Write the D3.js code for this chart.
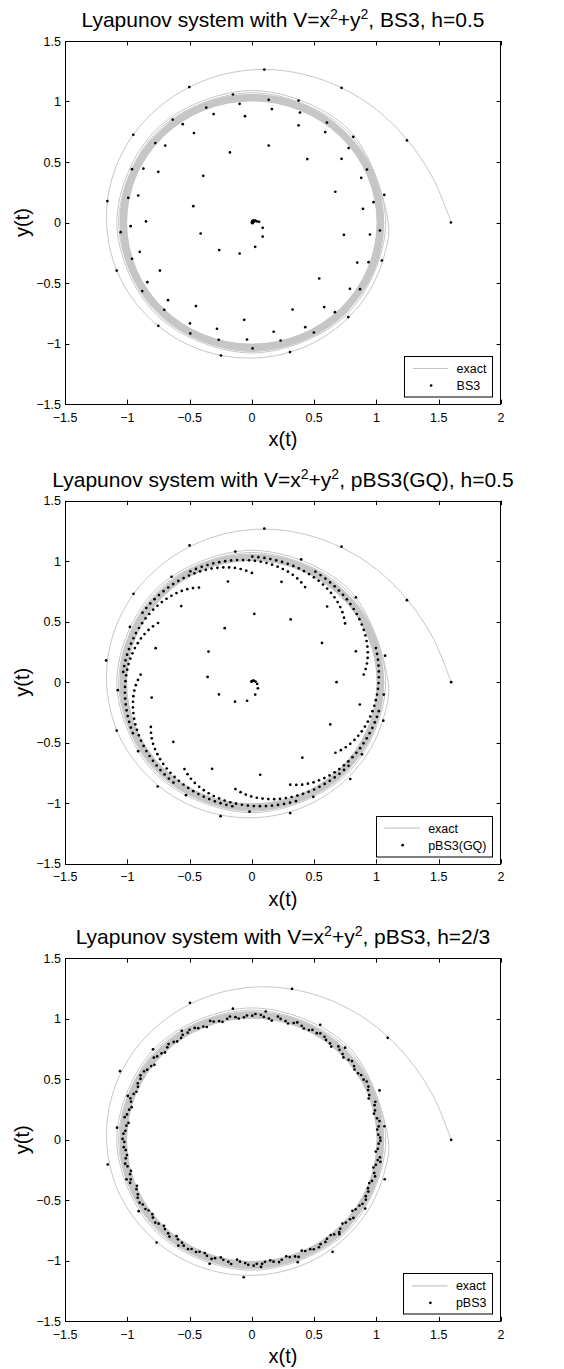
<!DOCTYPE html>
<html><head><meta charset="utf-8">
<script src="https://cdn.jsdelivr.net/npm/d3@7"></script>
<style>
body{margin:0;background:#fff}
svg{display:block}
text{font-family:"Liberation Sans",Arial,Helvetica,sans-serif;fill:#000}
</style>
</head><body>
<svg id="c" width="564" height="1369"></svg>
<script>
// ---------------- data ----------------
const xTicks = [-1.5, -1, -0.5, 0, 0.5, 1, 1.5, 2];
const yTicks = [-1.5, -1, -0.5, 0, 0.5, 1, 1.5];
const methodNames = ["BS3", "pBS3(GQ)", "pBS3"];
const stepLabels = ["h=0.5", "h=0.5", "h=2/3"];
const exactName = "exact";

// exact solution: spiral [angle deg, radius] for the first three turns
const exactSpiral = [
 [0,1.6],[14,1.5],[28.5,1.423],[43,1.368],[57,1.326],[71,1.294],[85.5,1.269],[100,1.246],
 [114,1.226],[128,1.21],[142.7,1.197],[157,1.184],[171,1.173],[185,1.163],[200,1.155],
 [214,1.146],[228.7,1.138],[243,1.132],[257,1.126],[272,1.12],[286,1.114],[300,1.109],
 [315,1.104],[330,1.1],[345,1.097],[360,1.095],[405,1.093],[450,1.09],[495,1.087],
 [540,1.084],[585,1.081],[630,1.078],[675,1.076],[720,1.074],[765,1.073],[810,1.072],
 [855,1.07],[900,1.069],[945,1.067],[990,1.066],[1035,1.064],[1080,1.062]
];
// later turns of the exact solution, packed into the grey band (radius per turn)
const exactBandRadii = [1.058,1.0555,1.053,1.0505,1.048,1.0455,1.043,1.0405,1.038,1.0355,1.033,
 1.0305,1.028,1.0255,1.023,1.0205,1.018,1.0155,1.013,1.0105,1.008,1.0055];

// BS3, h=0.5  (x, y)
const bs3Points = [
 [1.598,0],[1.245,0.678],[0.72,1.113],[0.1,1.264],[-0.502,1.119],[-0.952,0.725],[-1.16,0.177],
 [-1.085,-0.397],[-0.751,-0.854],[-0.248,-1.099],[0.306,-1.071],[0.774,-0.782],[1.044,-0.314],
 [-0.152,1.058],[0.135,1.014],[0.375,1.008],[-0.098,0.981],[0.161,0.937],[-0.366,0.95],
 [0.386,0.909],[-0.307,0.896],[-0.055,0.879],[-0.636,0.851],[-0.555,0.813],[0.603,0.826],
 [0.375,0.802],[0.589,0.747],[-0.465,0.739],[0.814,0.708],[-0.775,0.656],[-0.695,0.636],
 [0.135,0.636],[0.777,0.615],[-0.176,0.579],[0.445,0.524],[0.72,0.526],[0.924,0.438],
 [-0.962,0.441],[-0.871,0.446],[-0.751,0.419],[0.878,0.369],[-0.39,0.386],[1.063,0.229],
 [0.67,0.254],[-0.912,0.223],[-0.992,0.204],[0.977,0.168],[-0.47,0.135],[0.892,0.113],
 [-0.85,0.009],[-0.973,-0.03],[0.739,-0.102],[0.948,-0.099],[1.028,-0.066],[-1.053,-0.08],
 [-0.411,-0.091],[0.087,-0.044],[0.087,-0.116],[0.027,-0.201],[-0.098,-0.256],[-0.262,-0.228],
 [-0.9,-0.242],[-0.962,-0.3],[0.846,-0.331],[0.937,-0.328],[-0.738,-0.397],[0.541,-0.463],
 [-0.839,-0.493],[0.787,-0.548],[0.868,-0.551],[-0.88,-0.567],[-0.673,-0.642],[0.581,-0.699],
 [-0.449,-0.691],[0.327,-0.719],[0.667,-0.741],[-0.703,-0.721],[-0.061,-0.804],[0.429,-0.865],
 [-0.497,-0.834],[-0.28,-0.878],[0.175,-0.903],[-0.494,-0.917],[0.498,-0.909],[-0.266,-0.969],
 [-0.039,-0.967],[0.231,-0.975],[0.006,-1.041],
 [0,0],[0.003,0.012],[0.014,0.018],[0.027,0.016],[0.04,0.01],[0.058,0.006],[0.006,-0.006],[0.018,0.006]
];

// pBS3(GQ), h=0.5
const gqFirstTurn = [
 [1.6,0],[1.245,0.678],[0.72,1.12],[0.1,1.27],[-0.5,1.13],[-0.95,0.73],[-1.17,0.18],
 [-1.085,-0.4],[-0.756,-0.862],[-0.251,-1.107],[0.308,-1.082],[0.79,-0.8],[1.055,-0.318]
];
// [angle deg, radius]
const gqSecondTurn = [
 [11.6,1.092],[40,1.09],[68.7,1.089],[97,1.088],[126.5,1.084],[155,1.08],[183.5,1.078],
 [212,1.076],[240.5,1.073],[269,1.07],[297.5,1.068],[326,1.066],[354.5,1.064]
];
const gqRows = [
 [[4,.900],[6.8,.920],[9.5,.937],[12.2,.951],[14.9,.963],[17.6,.973],[20.3,.982],[23,.990],[25.7,.997],[28.4,1.003],[31.1,1.008],[33.8,1.013],[36.5,1.017],[39.2,1.021],[41.9,1.025],[44.6,1.028],[47.3,1.031],[50,1.034],[52.7,1.037],[55.4,1.040],[58.1,1.043],[60.8,1.046]],
 [[33,.892],[35.8,.912],[38.5,.929],[41.2,.943],[43.9,.955],[46.6,.965],[49.3,.974],[52,.982],[54.7,.989],[57.4,.995],[60.1,1.000],[62.8,1.005],[65.5,1.009],[68.2,1.013],[70.9,1.017],[73.6,1.020],[76.3,1.023],[79,1.026],[81.7,1.029],[84.4,1.032],[87.1,1.035],[89.8,1.038]],
 [[61.5,.895],[64.3,.915],[67,.932],[69.7,.946],[72.4,.958],[75.1,.968],[77.8,.977],[80.5,.985],[83.2,.992],[85.9,.998],[88.6,1.003],[91.3,1.008],[94,1.012],[96.7,1.016],[99.4,1.020],[102.1,1.023],[104.8,1.026],[107.5,1.029],[110.2,1.032],[112.9,1.035],[115.6,1.038],[118.3,1.041]],
 [[90,.903],[92.8,.923],[95.5,.940],[98.2,.954],[100.9,.966],[103.6,.976],[106.3,.985],[109,.993],[111.7,1.000],[114.4,1.006],[117.1,1.011],[119.8,1.016],[122.5,1.020],[125.2,1.024],[127.9,1.028],[130.6,1.031],[133.3,1.034],[136,1.037],[138.7,1.040],[141.4,1.043],[144.1,1.046],[146.8,1.049]],
 [[118.5,.890],[121.3,.910],[124,.927],[126.7,.941],[129.4,.953],[132.1,.963],[134.8,.972],[137.5,.980],[140.2,.987],[142.9,.993],[145.6,.998],[148.3,1.003],[151,1.007],[153.7,1.011],[156.4,1.015],[159.1,1.018],[161.8,1.021],[164.5,1.024],[167.2,1.027],[169.9,1.030],[172.6,1.033],[175.3,1.036]],
 [[147,.898],[149.8,.918],[152.5,.935],[155.2,.949],[157.9,.961],[160.6,.971],[163.3,.980],[166,.988],[168.7,.995],[171.4,1.001],[174.1,1.006],[176.8,1.011],[179.5,1.015],[182.2,1.019],[184.9,1.023],[187.6,1.026],[190.3,1.029],[193,1.032],[195.7,1.035],[198.4,1.038],[201.1,1.041],[203.8,1.044]],
 [[176,.895],[178.8,.915],[181.5,.932],[184.2,.946],[186.9,.958],[189.6,.968],[192.3,.977],[195,.985],[197.7,.992],[200.4,.998],[203.1,1.003],[205.8,1.008],[208.5,1.012],[211.2,1.016],[213.9,1.020],[216.6,1.023],[219.3,1.026],[222,1.029],[224.7,1.032],[227.4,1.035],[230.1,1.038],[232.8,1.041]],
 [[204.5,.891],[207.3,.911],[210,.928],[212.7,.942],[215.4,.954],[218.1,.964],[220.8,.973],[223.5,.981],[226.2,.988],[228.9,.994],[231.6,.999],[234.3,1.004],[237,1.008],[239.7,1.012],[242.4,1.016],[245.1,1.019],[247.8,1.022],[250.5,1.025],[253.2,1.028],[255.9,1.031],[258.6,1.034],[261.3,1.037]],
 [[233,.899],[235.8,.919],[238.5,.936],[241.2,.950],[243.9,.962],[246.6,.972],[249.3,.981],[252,.989],[254.7,.996],[257.4,1.002],[260.1,1.007],[262.8,1.012],[265.5,1.016],[268.2,1.020],[270.9,1.024],[273.6,1.027],[276.3,1.030],[279,1.033],[281.7,1.036],[284.4,1.039],[287.1,1.042],[289.8,1.045]],
 [[261.5,.893],[264.3,.913],[267,.930],[269.7,.944],[272.4,.956],[275.1,.966],[277.8,.975],[280.5,.983],[283.2,.990],[285.9,.996],[288.6,1.001],[291.3,1.006],[294,1.010],[296.7,1.014],[299.4,1.018],[302.1,1.021],[304.8,1.024],[307.5,1.027],[310.2,1.030],[312.9,1.033],[315.6,1.036],[318.3,1.039]],
 [[290,.901],[292.8,.921],[295.5,.938],[298.2,.952],[300.9,.964],[303.6,.974],[306.3,.983],[309,.991],[311.7,.998],[314.4,1.004],[317.1,1.009],[319.8,1.014],[322.5,1.018],[325.2,1.022],[327.9,1.026],[330.6,1.029],[333.3,1.032],[336,1.035],[338.7,1.038],[341.4,1.041],[344.1,1.044],[346.8,1.047]],
 [[319,.889],[321.8,.909],[324.5,.926],[327.2,.940],[329.9,.952],[332.6,.962],[335.3,.971],[338,.979],[340.7,.986],[343.4,.992],[346.1,.997],[348.8,1.002],[351.5,1.006],[354.2,1.010],[356.9,1.014],[359.6,1.017],[362.3,1.020],[365,1.023],[367.7,1.026],[370.4,1.029],[373.1,1.032],[375.8,1.035]]
];
const gqInnerSpiral = [
 [348,0.886],[17,0.873],[46,0.87],[74,0.863],[103,0.854],[132,0.847],[160,0.822],[189,0.814],
 [218,0.8],[246,0.784],[275,0.768],[303,0.744],[331,0.72],[360,0.68],[30,0.65],[59,0.605],
 [88,0.565],[116,0.497],[144,0.43],[173,0.358],[201,0.283],[230,0.21],[256,0.158],[285,0.106],
 [314,0.07],[342,0.045],[10,0.03],[39,0.02],[68,0.012],[97,0.008],[126,0.005]
];

// pBS3, h=2/3  [angle deg, radius]
const p3Turns = [
 [0,1.6],[37.7,1.378],[75.5,1.289],[113.7,1.236],[151.8,1.201],[190,1.175],[228,1.142],
 [266.7,1.138],[305,1.13],[343,1.115],
 [21.7,1.103],[60,1.098],[98,1.094],[136.7,1.09],[174.7,1.087],[213,1.083],[251.7,1.079],
 [290,1.076],[328,1.073],
 [6,1.07],[45.5,1.068],[84,1.066],[122,1.062],[160,1.06],[198,1.058],[236,1.055],[274,1.053],
 [312,1.05],[350,1.048]
];
const p3Band = [
 [1,1.030],[2.4,1.016],[4.8,1.010],[6.2,1.024],[8.6,1.036],[10,1.020],[12.4,1.004],[13.8,1.018],
 [16.2,1.026],[17.6,1.040],[20,0.998],[21.4,1.012],[23.8,1.020],[25.2,1.034],[27.6,1.040],[29,1.026],
 [31.4,1.028],[32.8,1.014],[35.2,1.008],[36.6,1.022],[39,1.034],[40.4,1.020],[42.8,1.002],[44.2,1.016],
 [46.6,1.024],[48,1.038],[50.4,1.000],[51.8,1.014],[54.2,1.018],[55.6,1.032],[58,1.038],[59.4,1.024],
 [61.8,1.030],[63.2,1.016],[65.6,1.010],[67,1.024],[69.4,1.036],[70.8,1.022],[73.2,1.004],[74.6,1.018],
 [77,1.026],[78.4,1.040],[80.8,0.998],[82.2,1.012],[84.6,1.020],[86,1.034],[88.4,1.040],[89.8,1.026],
 [92.2,1.028],[93.6,1.014],[96,1.008],[97.4,1.022],[99.8,1.034],[101.2,1.020],[103.6,1.002],[105,1.016],
 [107.4,1.024],[108.8,1.038],[111.2,1.000],[112.6,1.014],[115,1.018],[116.4,1.032],[118.8,1.038],[120.2,1.024],
 [122.6,1.030],[124,1.016],[126.4,1.010],[127.8,1.024],[130.2,1.036],[131.6,1.022],[134,1.004],[135.4,1.018],
 [137.8,1.026],[139.2,1.040],[141.6,0.998],[143,1.012],[145.4,1.020],[146.8,1.034],[149.2,1.040],[150.6,1.026],
 [153,1.028],[154.4,1.014],[156.8,1.008],[158.2,1.022],[160.6,1.034],[162,1.020],[164.4,1.002],[165.8,1.016],
 [168.2,1.024],[169.6,1.038],[172,1.000],[173.4,1.014],[175.8,1.018],[177.2,1.032],[179.6,1.038],[181,1.024],
 [183.4,1.030],[184.8,1.016],[187.2,1.010],[188.6,1.024],[191,1.036],[192.4,1.022],[194.8,1.004],[196.2,1.018],
 [198.6,1.026],[200,1.040],[202.4,0.998],[203.8,1.012],[206.2,1.020],[207.6,1.034],[210,1.040],[211.4,1.026],
 [213.8,1.028],[215.2,1.014],[217.6,1.008],[219,1.022],[221.4,1.034],[222.8,1.020],[225.2,1.002],[226.6,1.016],
 [229,1.024],[230.4,1.038],[232.8,1.000],[234.2,1.014],[236.6,1.018],[238,1.032],[240.4,1.038],[241.8,1.024],
 [244.2,1.030],[245.6,1.016],[248,1.010],[249.4,1.024],[251.8,1.036],[253.2,1.022],[255.6,1.004],[257,1.018],
 [259.4,1.026],[260.8,1.040],[263.2,0.998],[264.6,1.012],[267,1.020],[268.4,1.034],[270.8,1.040],[272.2,1.026],
 [274.6,1.028],[276,1.014],[278.4,1.008],[279.8,1.022],[282.2,1.034],[283.6,1.020],[286,1.002],[287.4,1.016],
 [289.8,1.024],[291.2,1.038],[293.6,1.000],[295,1.014],[297.4,1.018],[298.8,1.032],[301.2,1.038],[302.6,1.024],
 [305,1.030],[306.4,1.016],[308.8,1.010],[310.2,1.024],[312.6,1.036],[314,1.022],[316.4,1.004],[317.8,1.018],
 [320.2,1.026],[321.6,1.040],[324,0.998],[325.4,1.012],[327.8,1.020],[329.2,1.034],[331.6,1.040],[333,1.026],
 [335.4,1.028],[336.8,1.014],[339.2,1.008],[340.6,1.022],[343,1.034],[344.4,1.020],[346.8,1.002],[348.2,1.016],
 [350.6,1.024],[352,1.038],[354.4,1.000],[355.8,1.014],[358.2,1.018],[359.6,1.032]
];

// ---------------- drawing ----------------
const svg = d3.select("#c");
const panelTops = [41, 500.7, 958.3];
const L = 65, R = 501, PH = 363;
const grey = "#c6c6c6";
const dotR = 1.35;
const rad = Math.PI / 180;
const polar = d => [d[1] * Math.cos(d[0] * rad), d[1] * Math.sin(d[0] * rad)];
const fmt = v => v === 0 ? "0" : (v < 0 ? "\u2212" : "") + String(Math.abs(v));

const panelPoints = [
  bs3Points,
  gqFirstTurn.concat(gqSecondTurn.map(polar), gqRows.flat().map(polar), gqInnerSpiral.map(polar)),
  p3Turns.map(polar).concat(p3Band.map(polar))
];

panelTops.forEach((top, i) => {
  const x = d3.scaleLinear().domain([-1.5, 2]).range([L, R]);
  const y = d3.scaleLinear().domain([-1.5, 1.5]).range([top + PH, top]);
  const g = svg.append("g");
  const clipId = "clip" + i;
  svg.append("clipPath").attr("id", clipId).append("rect")
    .attr("x", L).attr("y", top).attr("width", R - L).attr("height", PH);

  const plot = g.append("g").attr("clip-path", `url(#${clipId})`);
  // exact band
  plot.selectAll("ellipse.band").data(exactBandRadii).join("ellipse")
    .attr("cx", x(0)).attr("cy", y(0))
    .attr("rx", r => x(r) - x(0)).attr("ry", r => y(0) - y(r))
    .attr("fill", "none").attr("stroke", grey).attr("stroke-width", 1);
  // exact spiral
  const line = d3.line().x(d => x(polar(d)[0])).y(d => y(polar(d)[1]))
    .curve(d3.curveCatmullRom.alpha(0.5));
  plot.append("path").attr("d", line(exactSpiral))
    .attr("fill", "none").attr("stroke", grey).attr("stroke-width", 1);
  // points
  plot.selectAll("circle.pt").data(panelPoints[i]).join("circle")
    .attr("cx", d => x(d[0])).attr("cy", d => y(d[1])).attr("r", dotR).attr("fill", "#000");

  // axes box and ticks (inward ticks on all sides)
  const tl = 4.4;
  const ax = g.append("g").attr("stroke", "#000").attr("stroke-width", 1).attr("fill", "none");
  ax.append("rect").attr("x", L + 0.5).attr("y", Math.round(top) + 0.5)
    .attr("width", R - L - 1).attr("height", PH);
  xTicks.forEach(t => {
    const px = Math.round(x(t)) + 0.5;
    ax.append("line").attr("x1", px).attr("x2", px).attr("y1", top + PH).attr("y2", top + PH - tl);
    ax.append("line").attr("x1", px).attr("x2", px).attr("y1", top).attr("y2", top + tl);
  });
  yTicks.forEach(t => {
    const py = Math.round(y(t)) + 0.5;
    ax.append("line").attr("x1", L).attr("x2", L + tl).attr("y1", py).attr("y2", py);
    ax.append("line").attr("x1", R).attr("x2", R - tl).attr("y1", py).attr("y2", py);
  });
  // tick labels
  g.selectAll("text.xt").data(xTicks).join("text")
    .attr("x", d => x(d)).attr("y", top + PH + 17.5).attr("text-anchor", "middle")
    .attr("font-size", 12.5).text(fmt);
  g.selectAll("text.yt").data(yTicks).join("text")
    .attr("x", L - 4).attr("y", d => y(d) + 4.5).attr("text-anchor", "end")
    .attr("font-size", 12.5).text(fmt);

  // axis labels
  g.append("text").attr("x", (L + R) / 2).attr("y", top + PH + 42).attr("text-anchor", "middle")
    .attr("font-size", 20).text("x(t)");
  g.append("text").attr("transform", `translate(28.5,${top + PH / 2}) rotate(-90)`)
    .attr("text-anchor", "middle").attr("font-size", 20).text("y(t)");

  // title with superscripts
  const tt = g.append("text").attr("x", (L + R) / 2).attr("y", top - 14)
    .attr("text-anchor", "middle").attr("font-size", 21);
  tt.append("tspan").text("Lyapunov system with V=x");
  tt.append("tspan").attr("dy", -8).attr("font-size", 14).text("2");
  tt.append("tspan").attr("dy", 8).text("+y");
  tt.append("tspan").attr("dy", -8).attr("font-size", 14).text("2");
  tt.append("tspan").attr("dy", 8).text(", " + methodNames[i] + ", " + stepLabels[i]);

  // legend
  const lg = g.append("g");
  const t1 = lg.append("text").attr("font-size", 12.5).text(exactName);
  const t2 = lg.append("text").attr("font-size", 12.5).text(methodNames[i]);
  const tw = Math.max(t1.node().getComputedTextLength(), t2.node().getComputedTextLength());
  const bx1 = R - 9, bTop = top + 315, bH = 40.5;
  const txt = bx1 - 5.5 - tw, bx0 = txt - 52.5;
  lg.insert("rect", "text").attr("x", Math.round(bx0) + 0.5).attr("y", Math.round(bTop) + 0.5)
    .attr("width", Math.round(bx1 - bx0)).attr("height", bH)
    .attr("fill", "#fff").attr("stroke", "#000").attr("stroke-width", 1);
  lg.append("line").attr("x1", bx0 + 8.5).attr("x2", bx0 + 44).attr("y1", bTop + 12.5).attr("y2", bTop + 12.5)
    .attr("stroke", grey).attr("stroke-width", 1.2);
  lg.append("circle").attr("cx", bx0 + 27).attr("cy", bTop + 29.5).attr("r", dotR).attr("fill", "#000");
  t1.attr("x", txt).attr("y", bTop + 17);
  t2.attr("x", txt).attr("y", bTop + 34);
});
</script>
</body></html>
